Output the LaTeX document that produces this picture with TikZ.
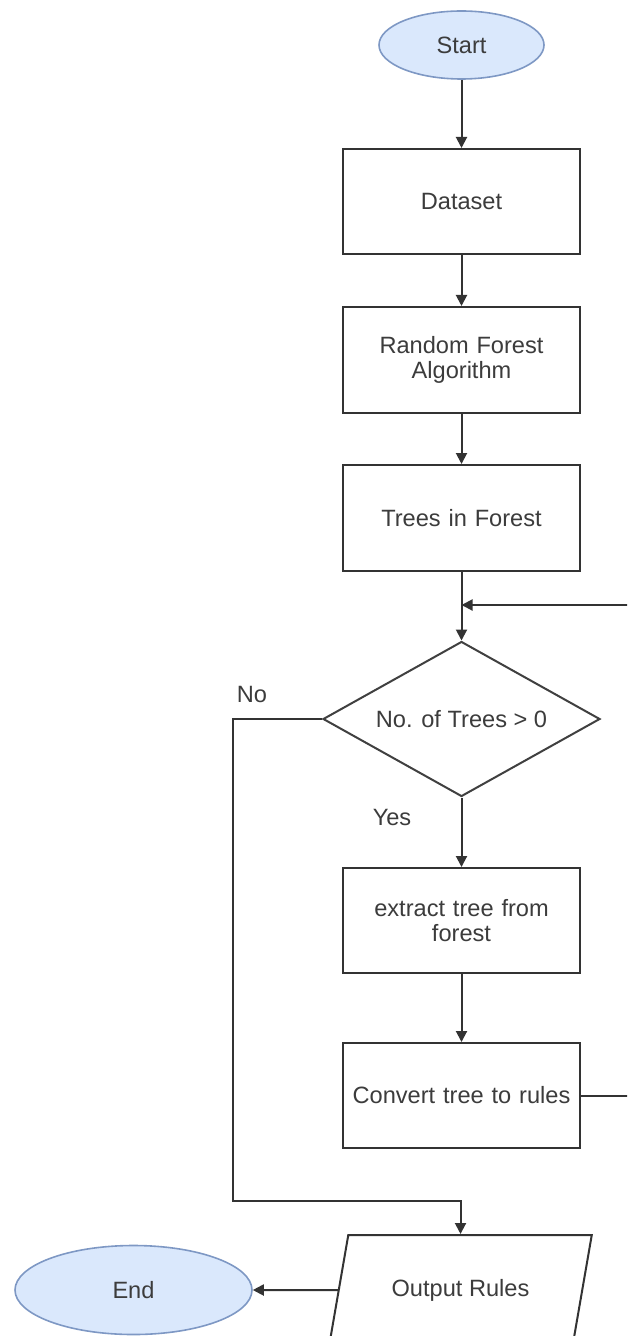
\documentclass[tikz,border=0pt]{standalone}
\usepackage{fontspec}
\setmainfont{Liberation Sans}
\usepackage{tikz}
\usetikzlibrary{positioning,calc}
\usetikzlibrary{arrows.meta,shapes.geometric}
\definecolor{TermBlue}{HTML}{DAE8FC}
\definecolor{TermEdge}{HTML}{7E98C4}
\definecolor{InkGray}{RGB}{60,60,60}
\tikzset{
	term/.style={ellipse,draw=TermEdge,fill=TermBlue,line width=0.8pt,inner sep=0pt,
		minimum width=#1,minimum height=34pt,text=InkGray},
	proc/.style={rectangle,draw=black!80,line width=1pt,fill=white,inner sep=0pt,
		minimum width=118.5pt,minimum height=52.5pt,text width=110pt,align=center,text=InkGray},
	decide/.style={diamond,draw=black!75,line width=1pt,fill=white,aspect=1.8,inner sep=0pt,
		minimum width=138.5pt,minimum height=77.5pt,text=InkGray},
	io/.style={trapezium,trapezium stretches=true,trapezium left angle=62,trapezium right angle=118,
		draw=black!80,line width=1pt,fill=white,inner sep=0pt,
		minimum width=131.5pt,minimum height=55pt,text=InkGray},
	flow/.style={draw=black!80,line width=1pt,-{Triangle[length=5.5pt,width=5.5pt]}},
	tag/.style={text=InkGray,inner sep=0pt},
}

\begin{document}
\begin{tikzpicture}[x=0.5pt,y=-0.5pt,font=\fontsize{11.8pt}{12.5pt}\selectfont]
			\useasboundingbox (0,0) rectangle (627,1336);
			\clip (0,0) rectangle (627,1336);
			% main column
			\node[term=82.5pt] (start) at (461.5,45) {Start};
			\node[proc] (data) at (461.5,201.5) {Dataset};
			\node[proc,minimum height=53pt] (rfa) at (461.5,360) {Random Forest\\Algorithm};
			\node[proc,minimum height=53pt] (trees) at (461.5,518) {Trees in Forest};
			\node[decide] (check) at (461.5,719) {No. of Trees > 0};
			\node[proc] (extr) at (461.5,920.5) {extract tree from\\forest};
			\node[proc] (conv) at (461.5,1095.5) {Convert tree to rules};
			\node[io] (outp) at (460.5,1290) {Output Rules};
			\node[term=118.5pt,minimum height=44.5pt] (stop) at (133.5,1290) {End};
			\node[tag] (nolbl) at (252,694) {No};
			\node[tag] (yeslbl) at (392,817) {Yes};
			% bends of the loop and of the No branch
			\coordinate (join) at (461.5,605);
			\coordinate (loopT) at (645,605);
			\coordinate (nobend) at (233,1201);
			\draw[flow] (start) -- (data);
			\draw[flow] (data) -- (rfa);
			\draw[flow] (rfa) -- (trees);
			\draw[flow] (trees) -- (check);
			\draw[flow] (check) -- (extr);
			\draw[flow] (extr) -- (conv);
			\draw[flow] (conv.east) -| (loopT) -- (join);
			\draw[flow] (check.west) -| (nobend) -| (outp.north);
			\draw[flow] (outp.west) -- (stop.east);
		\end{tikzpicture}
\end{document}
